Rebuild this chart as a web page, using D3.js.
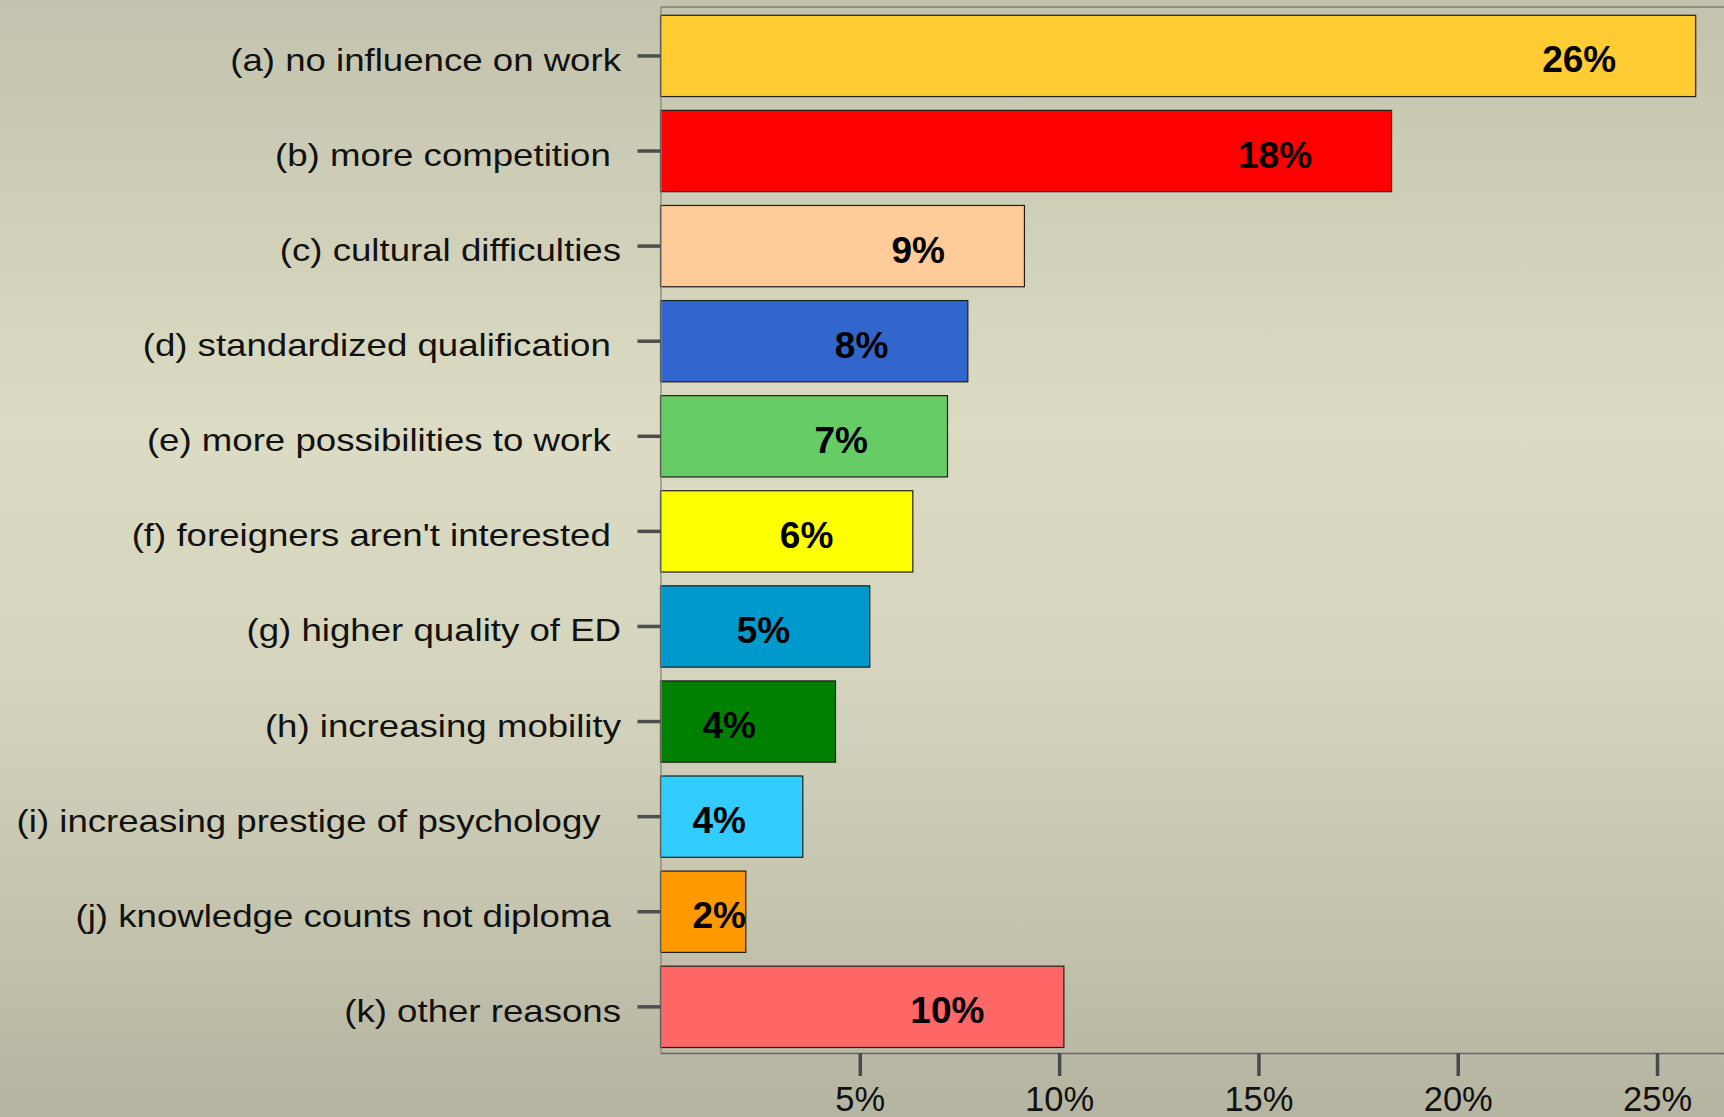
<!DOCTYPE html>
<html>
<head>
<meta charset="utf-8">
<script src="https://cdn.jsdelivr.net/npm/d3@7"></script>
<style>
  html, body { margin: 0; padding: 0; overflow: hidden; }
  svg { display: block; }
  text { font-family: "Liberation Sans", Arial, Helvetica, sans-serif; }
</style>
</head>
<body>
<svg id="chart" width="1724" height="1117"></svg>
<script>
// Survey answers: expected influence of the European diploma on work
const categories = [
  "(a) no influence on work",
  "(b) more competition ",
  "(c) cultural difficulties",
  "(d) standardized qualification ",
  "(e) more possibilities to work ",
  "(f) foreigners aren't interested ",
  "(g) higher quality of ED",
  "(h) increasing mobility",
  "(i) increasing prestige of psychology  ",
  "(j) knowledge counts not diploma ",
  "(k) other reasons"
];
const shares = [25.97, 18.34, 9.13, 7.71, 7.20, 6.33, 5.25, 4.39, 3.57, 2.14, 10.12];
const barColors = ["#FFCC33", "#FF0000", "#FFCC99", "#3366CC", "#66CC66", "#FFFF00",
                   "#0099CC", "#008000", "#33CCFF", "#FF9900", "#FF6666"];
const xTicks = [5, 10, 15, 20, 25];
const xMax = 26.69;

const W = 1724, H = 1117;
const svg = d3.select("#chart");

// background: soft vertical gradient
const defs = svg.append("defs");
const grad = defs.append("linearGradient").attr("id", "bg")
  .attr("x1", 0).attr("y1", 0).attr("x2", 0).attr("y2", 1);
[[0, "#c3c2ae"], [0.2, "#d0d0b9"], [0.38, "#dcdcc5"], [0.6, "#d5d5be"],
 [0.8, "#c6c5b0"], [1, "#b5b4a0"]].forEach(([o, c]) =>
  grad.append("stop").attr("offset", o).attr("stop-color", c));
svg.append("rect").attr("width", W).attr("height", H).attr("fill", "url(#bg)");

const plotLeft = 660.5, plotTop = 7, plotBottom = 1053;

const x = d3.scaleLinear().domain([0, xMax]).range([plotLeft, W + 0.4]);
const y = d3.scaleBand().domain(categories).range([plotTop, plotBottom])
  .paddingInner(0.145).paddingOuter(0.0725).align(0.6);

const rows = categories.map((c, i) => ({ cat: c, v: shares[i], color: barColors[i] }));

// top frame line
svg.append("line")
  .attr("x1", plotLeft).attr("x2", W).attr("y1", plotTop).attr("y2", plotTop)
  .attr("stroke", "#7e7e76").attr("stroke-width", 1.3);

// bars
svg.append("g").selectAll("rect").data(rows).join("rect")
  .attr("x", x(0))
  .attr("y", d => y(d.cat))
  .attr("width", d => x(d.v) - x(0))
  .attr("height", y.bandwidth())
  .attr("fill", d => d.color)
  .attr("stroke", "#1e1e1e")
  .attr("stroke-width", 1.2);

// left axis with category labels
const yAxis = svg.append("g")
  .attr("transform", `translate(${plotLeft},0)`)
  .call(d3.axisLeft(y).tickSize(23).tickSizeOuter(0));
yAxis.select(".domain").attr("stroke", "#85857d").attr("stroke-width", 1.3);
yAxis.selectAll(".tick line").attr("stroke", "#4d4d4d").attr("stroke-width", 3.5);
yAxis.selectAll(".tick text")
  .attr("x", 0).attr("dy", null)
  .attr("transform", "translate(-39.5,15) scale(1.145,1)")
  .attr("text-anchor", "end")
  .style("white-space", "pre")
  .attr("xml:space", "preserve")
  .attr("font-size", 32)
  .attr("fill", "#111");

// bottom axis
const xAxis = svg.append("g")
  .attr("transform", `translate(0,${plotBottom})`)
  .call(d3.axisBottom(x).tickValues(xTicks).tickFormat(d => d + "%")
    .tickSize(23).tickSizeOuter(0).tickPadding(11));
xAxis.select(".domain").attr("stroke", "#666660").attr("stroke-width", 1.4);
xAxis.selectAll(".tick line").attr("stroke", "#4a4a4a").attr("stroke-width", 3.5);
xAxis.selectAll(".tick text")
  .attr("font-size", 34.5).attr("fill", "#111");

// value labels inside bars
const fmt = v => d3.format(".0f")(v) + "%";
svg.append("g").selectAll("text").data(rows).join("text")
  .text(d => fmt(d.v))
  .attr("font-size", 37)
  .attr("font-weight", "bold")
  .attr("fill", "#000")
  .attr("y", d => y(d.cat) + y.bandwidth() / 2 + 16.5)
  .each(function (d) {
    const w = this.getComputedTextLength();
    const xs = Math.max(x(d.v) - 79.5 - w, x(0) + 32);
    d3.select(this).attr("x", xs);
  });
</script>
</body>
</html>
